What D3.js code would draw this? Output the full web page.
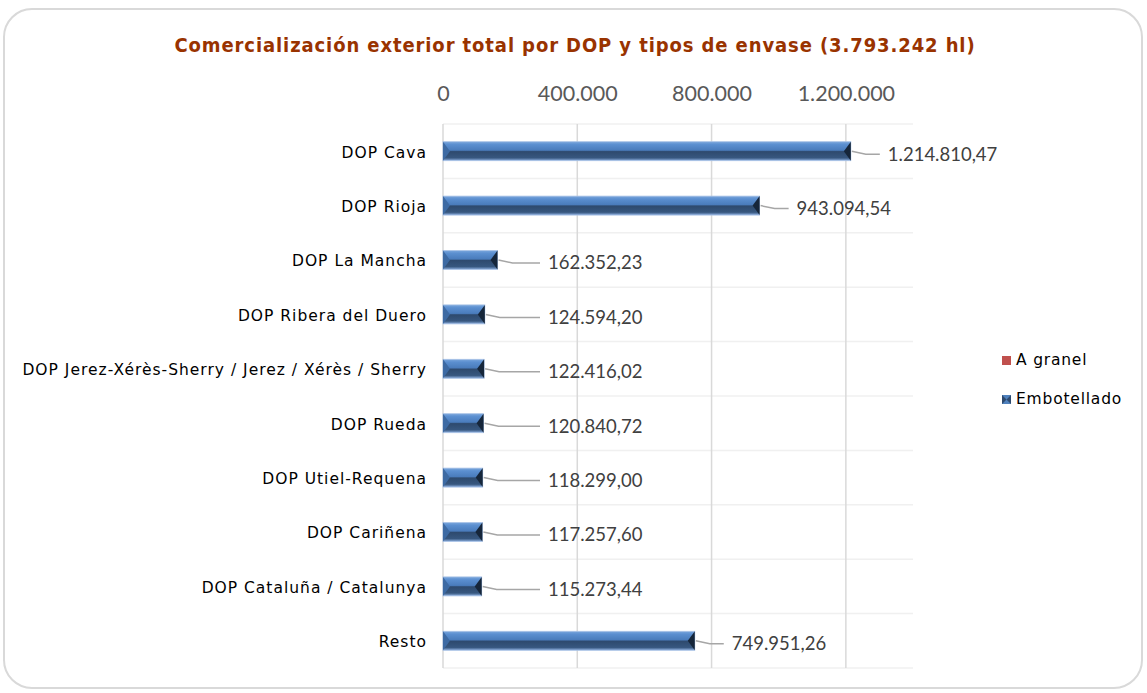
<!DOCTYPE html>
<html>
<head>
<meta charset="utf-8">
<script src="https://cdn.jsdelivr.net/npm/d3@7"></script>
<style>
  body { margin: 0; background: #fff; }
</style>
</head>
<body>
<div id="chart"></div>
<script>
var categories = ["DOP Cava", "DOP Rioja", "DOP La Mancha", "DOP Ribera del Duero",
  "DOP Jerez-Xérès-Sherry / Jerez / Xérès / Sherry", "DOP Rueda", "DOP Utiel-Requena",
  "DOP Cariñena", "DOP Cataluña / Catalunya", "Resto"];
var embotellado = [1214810.47, 943094.54, 162352.23, 124594.20, 122416.02,
  120840.72, 118299.00, 117257.60, 115273.44, 749951.26];
var granel = [0, 0, 0, 0, 0, 0, 0, 0, 0, 0];
var tickValues = [0, 400000, 800000, 1200000];
var seriesNames = ["A granel", "Embotellado"];

var width = 1147, height = 693;

var svg = d3.select("#chart").append("svg")
  .attr("width", width)
  .attr("height", height);

var defs = svg.append("defs");

// bevel look of the bars
var grad = defs.append("linearGradient")
  .attr("id", "bevel")
  .attr("x1", 0).attr("y1", 0).attr("x2", 0).attr("y2", 1);
grad.append("stop").attr("offset", "0%").attr("stop-color", "#7aa6dc");
grad.append("stop").attr("offset", "15%").attr("stop-color", "#5b8fd0");
grad.append("stop").attr("offset", "45%").attr("stop-color", "#4a7cbc");
grad.append("stop").attr("offset", "52%").attr("stop-color", "#2e4a6e");
grad.append("stop").attr("offset", "85%").attr("stop-color", "#37577f");
grad.append("stop").attr("offset", "100%").attr("stop-color", "#8caede");

// frame
svg.append("rect")
  .attr("x", 4).attr("y", 9)
  .attr("width", 1138).attr("height", 679)
  .attr("rx", 28).attr("ry", 28)
  .attr("fill", "#fff")
  .attr("stroke", "#d9d9d9")
  .attr("stroke-width", 2);

svg.append("text")
  .attr("x", 575).attr("y", 52)
  .attr("text-anchor", "middle")
  .attr("font-family", "'DejaVu Sans Condensed', 'DejaVu Sans'")
  .attr("font-weight", "bold")
  .attr("font-size", 20)
  .attr("letter-spacing", 0.9)
  .attr("fill", "#993300")
  .text("Comercialización exterior total por DOP y tipos de envase (3.793.242 hl)");

var x = d3.scaleLinear()
  .domain([0, 1400000])
  .range([443, 913]);

var y = d3.scaleBand()
  .domain(categories)
  .range([124, 668]);

var fmtTick = function(v) {
  return d3.format(",")(v).replace(/,/g, ".");
};
var fmtVal = function(v) {
  var s = d3.format(",.2f")(v);
  return s.replace(/,/g, "#").replace(".", ",").replace(/#/g, ".");
};

// horizontal gridlines between categories
var bounds = categories.map(function(c) { return y(c); }).concat([y.range()[1]]);
svg.append("g").selectAll("line")
  .data(bounds)
  .enter().append("line")
  .attr("x1", 443).attr("x2", 913)
  .attr("y1", function(d) { return d; })
  .attr("y2", function(d) { return d; })
  .attr("stroke", "#f0f0f0")
  .attr("stroke-width", 1.5);

// vertical gridlines
svg.append("g").selectAll("line")
  .data(tickValues)
  .enter().append("line")
  .attr("x1", function(d) { return x(d); })
  .attr("x2", function(d) { return x(d); })
  .attr("y1", 124).attr("y2", 668)
  .attr("stroke", "#d9d9d9")
  .attr("stroke-width", 1.5);

// top axis labels
var axis = d3.axisTop(x)
  .tickValues(tickValues)
  .tickFormat(fmtTick)
  .tickSize(0)
  .tickPadding(0);
var axisG = svg.append("g")
  .attr("transform", "translate(0,101)")
  .call(axis);
axisG.select(".domain").remove();
axisG.selectAll("text")
  .attr("font-family", "Lato, 'Open Sans', sans-serif")
  .attr("font-size", 21.5)
  .attr("fill", "#595959");

// category labels
var yAxis = d3.axisLeft(y).tickSize(0).tickPadding(0);
var yG = svg.append("g")
  .attr("transform", "translate(427,1)")
  .call(yAxis);
yG.select(".domain").remove();
yG.selectAll("text")
  .attr("font-family", "'DejaVu Sans'")
  .attr("font-size", 15.5)
  .attr("letter-spacing", 1.0)
  .attr("fill", "#000")
  .attr("dy", "0.35em");

var barH = 19;
var rows = categories.map(function(c, i) {
  return { name: c, value: embotellado[i] + granel[i], emb: embotellado[i] };
});

var bars = svg.append("g").selectAll("g")
  .data(rows)
  .enter().append("g")
  .attr("transform", function(d) {
    return "translate(0," + (y(d.name) + y.bandwidth() / 2 - barH / 2) + ")";
  });

bars.append("rect")
  .attr("x", x(0))
  .attr("width", function(d) { return x(d.emb) - x(0); })
  .attr("height", barH)
  .attr("fill", "url(#bevel)")
  .attr("stroke", "#a9c2e6")
  .attr("stroke-width", 0.8);

// left bevel
bars.append("path")
  .attr("d", function() {
    var x0 = x(0);
    return "M" + x0 + ",0L" + (x0 + 7) + "," + (barH / 2) + "L" + x0 + "," + barH + "Z";
  })
  .attr("fill", "#3d6aa3");

// right bevel
bars.append("path")
  .attr("d", function(d) {
    var x1 = x(d.emb);
    return "M" + x1 + ",0L" + (x1 - 7) + "," + (barH / 2) + "L" + x1 + "," + barH + "Z";
  })
  .attr("fill", "#16263a");

// data labels with leader lines
function labelX(d) {
  var end = x(d.value);
  return end > 600 ? end + 37 : 548;
}

bars.append("path")
  .attr("d", function(d) {
    var end = x(d.value) + 1, lx = labelX(d) - 8;
    return "M" + end + "," + (barH / 2) + "L" + (end + 14) + "," + (barH / 2 + 3) + "L" + lx + "," + (barH / 2 + 3);
  })
  .attr("fill", "none")
  .attr("stroke", "#a6a6a6")
  .attr("stroke-width", 1.5);

bars.append("text")
  .attr("x", labelX)
  .attr("y", barH / 2 + 3)
  .attr("dy", "0.35em")
  .attr("font-family", "Lato, 'Open Sans', sans-serif")
  .attr("font-size", 18.5)
  .attr("fill", "#404040")
  .text(function(d) { return fmtVal(d.value); });

// legend
var legendColors = ["#c0504d", "#4f81bd"];
var legend = svg.append("g").selectAll("g")
  .data(seriesNames)
  .enter().append("g")
  .attr("transform", function(d, i) { return "translate(1002," + (360 + i * 39) + ")"; });

legend.append("rect")
  .attr("x", 0).attr("y", -4)
  .attr("width", 9).attr("height", 9)
  .attr("fill", function(d, i) { return legendColors[i]; });

legend.filter(function(d, i) { return i === 1; })
  .append("path")
  .attr("d", "M0,-4L4.5,0.5L0,5Z M9,-4L4.5,0.5L9,5Z")
  .attr("fill", "#2e4a6e");

legend.append("text")
  .attr("x", 14)
  .attr("dy", "0.35em")
  .attr("font-family", "'DejaVu Sans'")
  .attr("font-size", 15.5)
  .attr("letter-spacing", 0.8)
  .attr("fill", "#000")
  .text(function(d) { return d; });
</script>
</body>
</html>
